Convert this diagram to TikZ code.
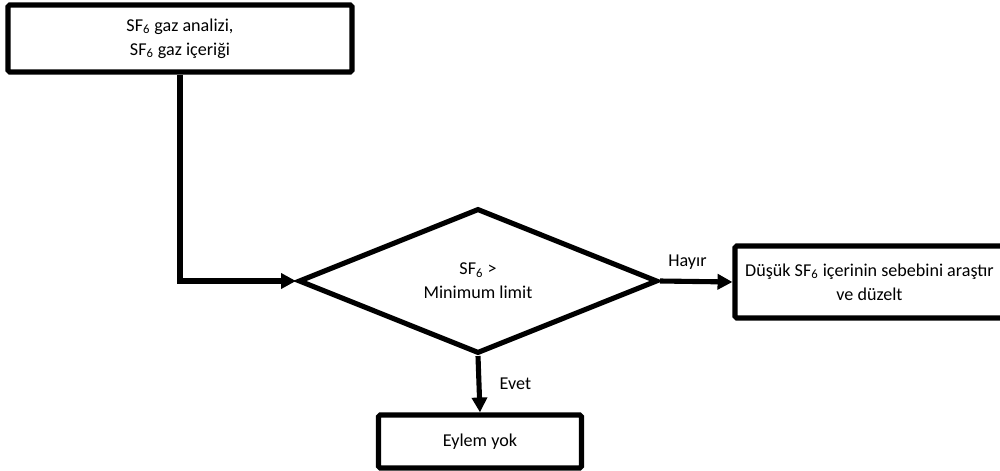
\documentclass[tikz,border=0pt]{standalone}
\usepackage{fontspec}
\setmainfont{Carlito}
\usepackage{tikz}
\usetikzlibrary{shapes.geometric,arrows.meta}

\newcommand{\sfalti}{SF\textsubscript{6}}

\begin{document}
\begin{tikzpicture}[x=0.02cm,y=-0.02cm,
    font=\fontsize{10.3}{13.6}\selectfont,
    kutu/.style={draw,line width=2.9pt,rounded corners=1pt,align=center,inner sep=2pt},
    karar/.style={draw,diamond,line width=2.9pt,align=center,inner sep=0pt,
        minimum width=7.18cm,minimum height=2.9cm},
    ok/.style={line width=2.9pt,-{Triangle[length=8.5pt,width=8.5pt]}}]
\useasboundingbox (0,0) rectangle (1000,470);

% Kutular
\node[kutu,minimum width=6.88cm,minimum height=1.34cm] (analiz) at (180,38.5)
    {\sfalti{} gaz analizi,\\ \sfalti{} gaz içeriği};
\node[karar] (karar) at (478,281) {\sfalti{} >\\ Minimum limit};
\node[kutu,minimum width=5.38cm,minimum height=1.44cm] (duzelt) at (869.5,282)
    {Düşük \sfalti{} içerinin sebebini araştır\\ ve düzelt};
\node[kutu,minimum width=4.06cm,minimum height=1.06cm] (yok) at (480,441.5) {Eylem yok};

% Oklar
\draw[ok] (analiz.south) |- (karar.west);
\draw[ok] (karar.east) -- node[above=2pt,xshift=-5pt] {Hayır} (duzelt.west);
\draw[ok] (karar.south) -- node[right=7pt] {Evet} (yok.north);
\end{tikzpicture}
\end{document}
